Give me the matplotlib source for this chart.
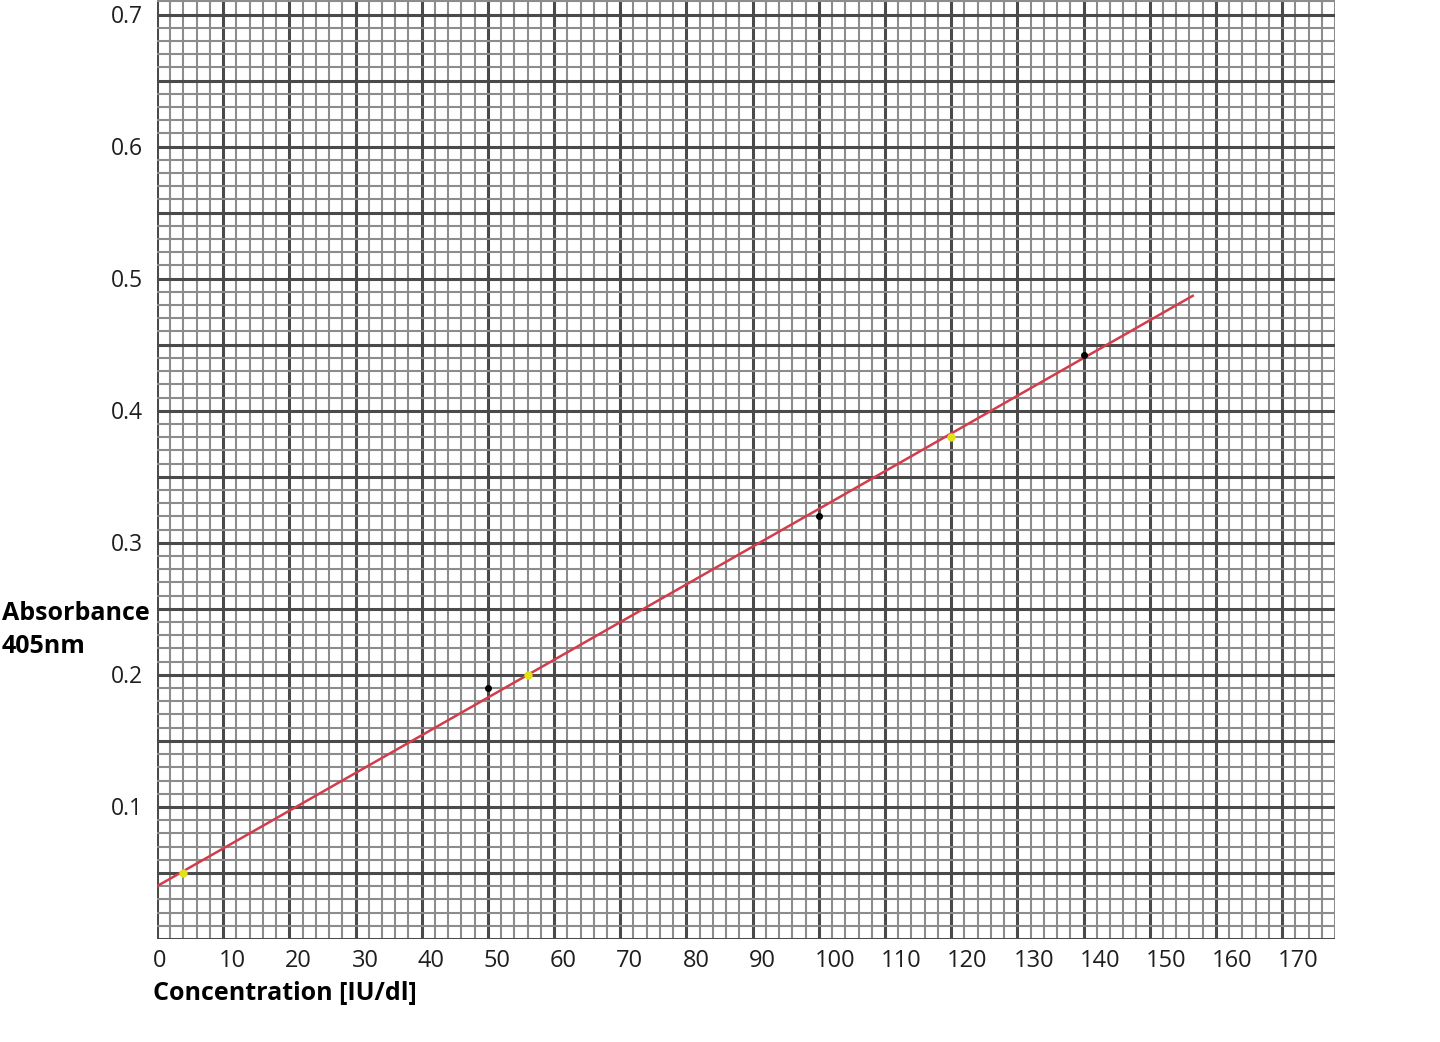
import matplotlib
matplotlib.use("Agg")
import matplotlib.pyplot as plt
import numpy as np

# calibration line and points
line_x = [0, 156.5]
line_y = [0.040, 0.487]
std_x = [50, 100, 140]          # black points
std_y = [0.190, 0.320, 0.442]
read_x = [4, 56, 120]           # yellow points on the line
read_y = [0.050, 0.200, 0.380]

x_labels = list(range(0, 171, 10))
y_labels = [0.1, 0.2, 0.3, 0.4, 0.5, 0.6, 0.7]

plt.rcParams["font.family"] = ["Open Sans", "DejaVu Sans"]

W, H = 1440, 1042
fig = plt.figure(figsize=(W / 100, H / 100), dpi=100)
ax = fig.add_axes([157 / W, (H - 939) / H, (1335 - 157) / W, 939 / H])
ax.set_xlim(0, 178)
ax.set_ylim(0, 0.711)

# graph paper grid
ax.set_xticks(np.arange(0, 171, 10))
ax.set_xticks(np.arange(0, 179, 2), minor=True)
ax.set_yticks(np.arange(0, 0.711, 0.05))
ax.set_yticks(np.arange(0, 0.711, 0.01), minor=True)
ax.grid(which="minor", color="#8c8c8c", lw=1.5)
ax.grid(which="major", color="#4a4a4a", lw=2.2)
ax.set_axisbelow(True)
for s in ax.spines.values():
    s.set_visible(False)
ax.tick_params(which="both", length=0)
ax.set_xticklabels([])
ax.set_yticklabels([])

for v in x_labels:
    ax.annotate(str(v), (v, 0), xytext=(-4, -28), textcoords="offset pixels",
                ha="left", va="baseline", fontsize=17, color="#1e1e1e")
for v in y_labels:
    ax.annotate(f"{v:.1f}", (0, v), xytext=(-14, -8), textcoords="offset pixels",
                ha="right", va="baseline", fontsize=16.5, color="#1e1e1e")

ax.plot(line_x, line_y, color="#d23c4b", lw=1.8, zorder=3)
ax.plot(std_x, std_y, "o", color="black", ms=4, zorder=4)
ax.plot(read_x, read_y, "o", color="#e2e21a", ms=5, zorder=4)

fig.text(2 / W, 1 - 620 / H, "Absorbance", fontsize=18, fontweight="bold",
         ha="left", va="baseline")
fig.text(2 / W, 1 - 653 / H, "405nm", fontsize=18, fontweight="bold",
         ha="left", va="baseline")
fig.text(153 / W, 1 - 1000 / H, "Concentration [IU/dl]", fontsize=18,
         fontweight="bold", ha="left", va="baseline")

fig.savefig("out.png", dpi=100)
